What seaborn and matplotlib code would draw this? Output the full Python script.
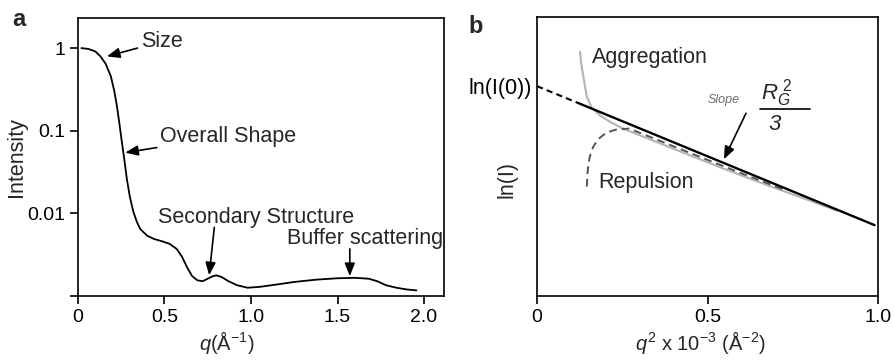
import numpy as np
import pandas as pd
import matplotlib
matplotlib.use("Agg")
import matplotlib.pyplot as plt
import seaborn as sns

# ---- Panel a: SAXS intensity profile ----
q_a = [0.02, 0.06, 0.10, 0.13, 0.16, 0.19, 0.21, 0.225, 0.24, 0.254, 0.27,
       0.283, 0.30, 0.32, 0.34, 0.36, 0.40, 0.44, 0.49, 0.53, 0.57, 0.60,
       0.63, 0.66, 0.69, 0.72, 0.75, 0.78, 0.80, 0.83, 0.87, 0.92, 0.98,
       1.05, 1.15, 1.25, 1.38, 1.50, 1.60, 1.68, 1.73, 1.78, 1.84, 1.90, 1.956]
intensity_a = [1.0, 0.977, 0.912, 0.794, 0.646, 0.457, 0.302, 0.200, 0.120,
               0.0724, 0.0417, 0.0257, 0.0158, 0.0105, 0.00794, 0.00646,
               0.00537, 0.00490, 0.00457, 0.00427, 0.00372, 0.00302, 0.00224,
               0.00174, 0.00155, 0.00151, 0.00162, 0.00174, 0.00178, 0.00170,
               0.00151, 0.00135, 0.00126, 0.00129, 0.00138, 0.00148, 0.00158,
               0.00164, 0.00166, 0.00162, 0.00151, 0.00135, 0.00126, 0.00120,
               0.00117]
a_xticks = [0, 0.5, 1.0, 1.5, 2.0]
a_xticklabels = ["0", "0.5", "1.0", "1.5", "2.0"]
a_yticks = [1, 0.1, 0.01, 0.001]
a_yticklabels = ["1", "0.1", "0.01", ""]

# ---- Panel b: Guinier plot ----
extrap_q2 = [0.0, 0.12]
extrap_lnI = [0.752, 0.692]
fit_q2 = [0.12, 0.99]
fit_lnI = [0.692, 0.254]
agg_q2 = [0.126, 0.130, 0.136, 0.146, 0.161, 0.185, 0.21, 0.25, 0.32, 0.42,
          0.55, 0.68, 0.80, 0.88]
agg_lnI = [0.875, 0.83, 0.786, 0.714, 0.674, 0.647, 0.627, 0.601, 0.567,
           0.518, 0.455, 0.395, 0.342, 0.305]
rep_q2 = [0.146, 0.148, 0.151, 0.157, 0.165, 0.178, 0.194, 0.215, 0.234,
          0.27, 0.34, 0.45, 0.58, 0.73]
rep_lnI = [0.392, 0.44, 0.476, 0.51, 0.535, 0.560, 0.577, 0.590, 0.597,
           0.600, 0.566, 0.512, 0.449, 0.378]
b_xticks = [0, 0.5, 1.0]
b_xticklabels = ["0", "0.5", "1.0"]
ln_I0 = 0.752

sns.set_theme(style="ticks")
plt.rcParams["font.family"] = ["Liberation Sans", "DejaVu Sans"]
plt.rcParams["mathtext.fontset"] = "custom"
plt.rcParams["mathtext.rm"] = "Liberation Sans"
plt.rcParams["mathtext.it"] = "Liberation Sans:italic"
plt.rcParams["mathtext.default"] = "regular"
plt.rcParams["axes.linewidth"] = 1.2

NOTE_FS = 15.5
LABEL_FS = 15.5
XLABEL_FS = 14.5
TICK_FS = 14

fig = plt.figure(figsize=(8.94, 3.61), dpi=100)
ax_a = fig.add_axes([0.0872, 0.180, 0.4094, 0.770])
ax_b = fig.add_axes([0.6007, 0.180, 0.3814, 0.773])

arrow = dict(arrowstyle="-|>,head_length=0.55,head_width=0.22", color="black",
             lw=1.2, mutation_scale=14, shrinkA=0, shrinkB=0)

# Panel a
df_a = pd.DataFrame({"q": q_a, "I": intensity_a})
sns.lineplot(data=df_a, x="q", y="I", ax=ax_a, color="black", lw=1.3,
             sort=False, estimator=None)
ax_a.set_yscale("log")
ax_a.set_xlim(0, 2.115)
ax_a.set_ylim(0.001, 2.31)
ax_a.set_xticks(a_xticks)
ax_a.set_xticklabels(a_xticklabels)
ax_a.set_yticks(a_yticks)
ax_a.set_yticklabels(a_yticklabels)
ax_a.minorticks_off()
ax_a.tick_params(axis="both", length=6, width=1.2, labelsize=TICK_FS, pad=3,
                 color="black", labelcolor="black")
ax_a.set_xlabel(r"$\it{q}$(Å$^{-1}$)", fontsize=XLABEL_FS)
ax_a.set_ylabel("Intensity", fontsize=LABEL_FS)
ax_a.xaxis.set_label_coords(0.407, -0.118)
ax_a.yaxis.set_label_coords(-0.139, 0.5)
for s in ax_a.spines.values():
    s.set_color("black")

ax_a.annotate("Size", xy=(0.167, 0.794), xytext=(0.363, 1.2),
              fontsize=NOTE_FS, va="center", ha="left", arrowprops=arrow)
ax_a.annotate("Overall Shape", xy=(0.273, 0.0543), xytext=(0.475, 0.0863),
              fontsize=NOTE_FS, va="center", ha="left", arrowprops=arrow)
ax_a.text(0.46, 0.00891, "Secondary Structure", fontsize=NOTE_FS,
          va="center", ha="left")
ax_a.annotate("", xy=(0.758, 0.00178), xytext=(0.788, 0.00676),
              arrowprops=arrow)
ax_a.text(1.21, 0.0049, "Buffer scattering", fontsize=NOTE_FS, va="center",
          ha="left")
ax_a.annotate("", xy=(1.571, 0.00174), xytext=(1.571, 0.00372),
              arrowprops=arrow)

# Panel b
df_ext = pd.DataFrame({"q2": extrap_q2, "lnI": extrap_lnI})
df_fit = pd.DataFrame({"q2": fit_q2, "lnI": fit_lnI})
df_agg = pd.DataFrame({"q2": agg_q2, "lnI": agg_lnI})
df_rep = pd.DataFrame({"q2": rep_q2, "lnI": rep_lnI})

sns.lineplot(data=df_agg, x="q2", y="lnI", ax=ax_b, color="#b4b4b4", lw=1.5,
             sort=False, estimator=None)
sns.lineplot(data=df_rep, x="q2", y="lnI", ax=ax_b, color="#555555", lw=1.4,
             sort=False, estimator=None, linestyle=(0, (4, 2.5)))
sns.lineplot(data=df_fit, x="q2", y="lnI", ax=ax_b, color="black", lw=1.7,
             sort=False, estimator=None)
sns.lineplot(data=df_ext, x="q2", y="lnI", ax=ax_b, color="black", lw=1.5,
             sort=False, estimator=None, linestyle=(0, (3, 2)))

ax_b.set_xlim(0, 1.0)
ax_b.set_ylim(0, 1.0)
ax_b.set_xticks(b_xticks)
ax_b.set_xticklabels(b_xticklabels)
ax_b.set_yticks([ln_I0])
ax_b.set_yticklabels(["ln(I(0))"])
ax_b.tick_params(axis="x", length=6, width=1.2, labelsize=TICK_FS, pad=3,
                 color="black", labelcolor="black")
ax_b.tick_params(axis="y", length=0, labelsize=LABEL_FS, pad=4,
                 labelcolor="black")
ax_b.set_xlabel(r"$\it{q}^2$ x 10$^{-3}$ (Å$^{-2}$)", fontsize=XLABEL_FS)
ax_b.set_ylabel("ln(I)", fontsize=LABEL_FS)
ax_b.xaxis.set_label_coords(0.48, -0.118)
ax_b.yaxis.set_label_coords(-0.056, 0.416)
for s in ax_b.spines.values():
    s.set_color("black")

ax_b.text(0.16, 0.855, "Aggregation", fontsize=NOTE_FS, va="center",
          ha="left")
ax_b.text(0.181, 0.406, "Repulsion", fontsize=NOTE_FS, va="center",
          ha="left")
ax_b.text(0.547, 0.702, "Slope", fontsize=9, style="italic", color="#6e6e6e",
          va="center", ha="center")
ax_b.text(0.703, 0.726, r"$\it{R}_{\it{G}}^{\ 2}$", fontsize=16,
          va="center", ha="center")
ax_b.plot([0.654, 0.80], [0.669, 0.669], color="black", lw=1.2)
ax_b.text(0.698, 0.613, "3", fontsize=16, style="italic", va="center",
          ha="center")
ax_b.annotate("", xy=(0.548, 0.490), xytext=(0.613, 0.655), arrowprops=arrow)

fig.text(12 / 894, 1 - 26 / 361, "a", fontsize=17, fontweight="bold",
         va="baseline", ha="left")
fig.text(468 / 894, 1 - 33 / 361, "b", fontsize=17, fontweight="bold",
         va="baseline", ha="left")

fig.savefig("out.png", dpi=100)
